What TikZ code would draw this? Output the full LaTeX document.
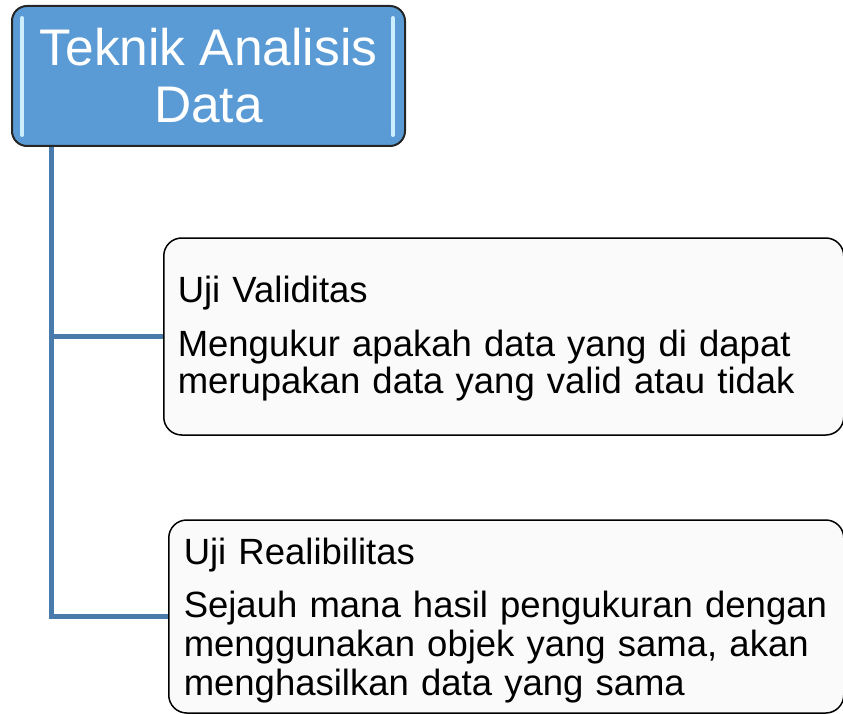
\documentclass[tikz,border=0pt]{standalone}
\usepackage{fontspec}
\setmainfont{Liberation Sans}
\usetikzlibrary{positioning}
\definecolor{kotakbiru}{RGB}{91,155,213}
\definecolor{garisbiru}{RGB}{72,122,172}
\definecolor{sorot}{RGB}{205,238,255}
\begin{document}
\begin{tikzpicture}[x=1pt,y=-1pt,
    judul/.style={draw=black!85,line width=2pt,rounded corners=15pt,fill=kotakbiru,
      text=white,minimum width=393pt,minimum height=140pt,inner sep=0pt,
      align=center,font=\fontsize{51.5}{57}\selectfont},
    isi/.style={draw=black,line width=1.5pt,rounded corners=18pt,fill=black!2,
      anchor=west,align=left,font=\fontsize{36.5}{37}\selectfont},
    garis/.style={draw=garisbiru,line width=5pt}]
  \useasboundingbox (0,0) rectangle (843,714);
  \node[isi,inner xsep=14pt,text width=652pt,minimum height=197pt] (1) at (163,336.5)
    {\rule{0pt}{30pt}Uji Validitas\\[17pt]
     Mengukur apakah data yang di dapat\\
     merupakan data yang valid atau tidak};
  \node[isi,inner xsep=15pt,text width=645pt,minimum height=193pt,
      font=\fontsize{36.5}{39}\selectfont] (2) at (168,616.5)
    {\rule{0pt}{35pt}Uji Realibilitas\\[14pt]
     Sejauh mana hasil pengukuran dengan\\
     menggunakan objek yang sama, akan\\
     menghasilkan data yang sama};
  \node[judul] (0) at (208.5,76) {Teknik Analisis\\Data};
  % sorotan
  \draw[sorot,line width=4pt,line cap=round]
    ([xshift=11pt,yshift=-13pt]0.north west) -- ([xshift=11pt,yshift=12pt]0.south west)
    ([xshift=-13pt,yshift=-13pt]0.north east) -- ([xshift=-13pt,yshift=12pt]0.south east);
  \coordinate (akar) at ([xshift=40pt]0.south west);
  \begin{scope}[garis]
    \draw (akar) |- (1.west);
    \draw (akar) |- (2.west);
  \end{scope}
\end{tikzpicture}
\end{document}
